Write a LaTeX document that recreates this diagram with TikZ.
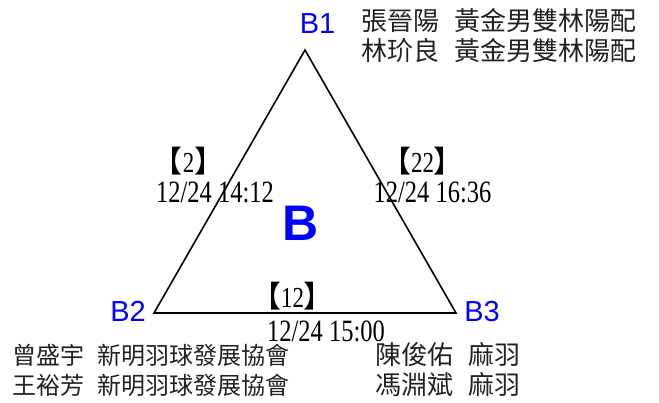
\documentclass[tikz,border=0pt]{standalone}
\usepackage{fontspec}
\setmainfont{Liberation Serif}
\newfontfamily\cjk{Noto Sans CJK TC}
\newfontfamily\fecha[FakeStretch=0.79]{Liberation Serif}
\newfontfamily\arial{Liberation Sans}
\usepackage{tikz}
\usetikzlibrary{positioning}
\definecolor{azul}{HTML}{0000FF}
\definecolor{tinta}{HTML}{222222}
\newcommand{\llave}[1]{{\cjk\fontsize{30}{30}\selectfont 【}#1{\cjk\fontsize{30}{30}\selectfont 】}}
\newcommand{\pareja}[2]{#1\hspace{.55em}#2}
\tikzset{
  lado/.style={draw=black,line width=1.6pt},
  vertice/.style={font=\arial\fontsize{29}{29}\selectfont,text=azul,inner sep=0pt},
  grupo/.style={font=\arial\bfseries\fontsize{50}{50}\selectfont,text=azul,inner sep=0pt},
  partido/.style={font=\fecha\fontsize{29}{29}\selectfont,inner sep=0pt},
  hora/.style={font=\fecha\fontsize{31}{31}\selectfont,inner sep=0pt},
  jugador/.style={font=\cjk\fontsize{26}{26}\selectfont,text=tinta,anchor=west,inner sep=0pt},
  jugadorp/.style={jugador,font=\cjk\fontsize{24}{24}\selectfont},
}
\begin{document}
\begin{tikzpicture}[x=1pt,y=-1pt]
  \useasboundingbox (0,0) rectangle (659,403);
  \coordinate (v1) at (305,50);
  \coordinate (v2) at (154,313);
  \coordinate (v3) at (456,313);
  \draw[lado] (v1) -- (v2) -- (v3) -- cycle;
  \node[vertice] (b1) at (317.5,23.5) {B1};
  \node[vertice] (b2) at (128,311.5) {B2};
  \node[vertice] (b3) at (482,311.5) {B3};
  \node[grupo] (b) at (300.5,223.5) {B};
  \node[partido] (m2) at (188.5,161.5) {\llave{2}};
  \node[hora] (h2) at (215,192) {12/24 14:12};
  \node[partido] (m22) at (422.5,161.5) {\llave{22}};
  \node[hora] (h22) at (432.5,192) {12/24 16:36};
  \node[partido] (m12) at (292.5,296.5) {\llave{12}};
  \node[hora] (h12) at (326,331) {12/24 15:00};
  \node[jugador] (p1a) at (361.5,21) {\pareja{張晉陽}{黃金男雙林陽配}};
  \node[jugador] (p1b) at (361.5,51) {\pareja{林玠良}{黃金男雙林陽配}};
  \node[jugadorp] (p2a) at (12,355) {\pareja{曾盛宇}{新明羽球發展協會}};
  \node[jugadorp] (p2b) at (12,385) {\pareja{王裕芳}{新明羽球發展協會}};
  \node[jugador] (p3a) at (375.5,355) {\pareja{陳俊佑}{麻羽}};
  \node[jugador] (p3b) at (375.5,385) {\pareja{馮淵斌}{麻羽}};
\end{tikzpicture}
\end{document}
